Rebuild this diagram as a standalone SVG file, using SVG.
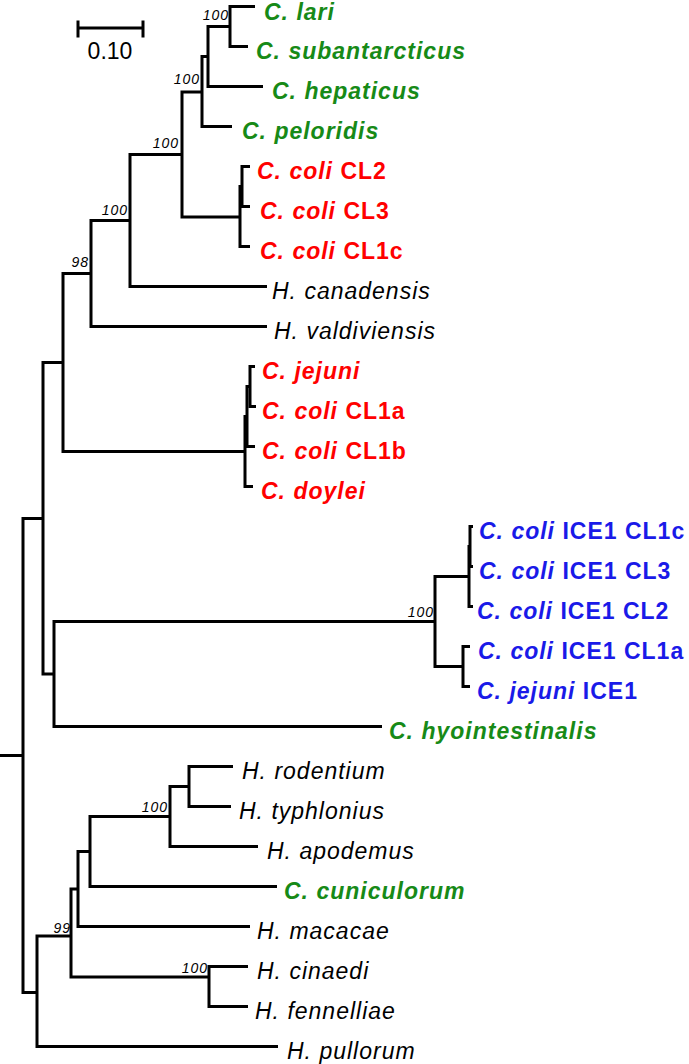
<svg xmlns="http://www.w3.org/2000/svg" width="689" height="1064" viewBox="0 0 689 1064">
<style>
.br{fill:none;stroke:#000;stroke-width:3;stroke-linejoin:miter;stroke-linecap:butt}
.lab{font-family:"Liberation Sans",Arial,sans-serif;font-size:23px;letter-spacing:1px}
.bi{font-weight:bold;font-style:italic}
.b{font-weight:bold;font-style:normal}
.it{font-style:italic;fill:#000}
.gr{fill:#178a17}
.rd{fill:#ff0000}
.bl{fill:#1a1ae8}
.bs{font-family:"Liberation Sans",Arial,sans-serif;font-size:14px;letter-spacing:1px;font-style:italic;fill:#000;text-anchor:end}
.sc{font-family:"Liberation Sans",Arial,sans-serif;font-size:23px;fill:#000;text-anchor:middle}
</style>
<rect width="689" height="1064" fill="#fff"/>
<g id="scale-bar">
<path class="br" d="M78,28 H143 M78,20.5 V37.5 M143,20.5 V37.5"/>
<text class="sc" x="110" y="59">0.10</text>
</g>
<g id="connectors">
<path class="br" d="M0,755.5 H23"/>
<path class="br" d="M43,518.5 H23 V992.5 H37"/>
<path class="br" d="M63,362.5 H43 V674 H54"/>
<path class="br" d="M91,273.5 H63 V451.5 H245"/>
<path class="br" d="M130,220.5 H91 V326.5 H267"/>
<path class="br" d="M182,154.5 H130 V286.5 H267"/>
<path class="br" d="M202,92 H182 V217 H240"/>
<path class="br" d="M208,56.5 H202 V126.5 H232"/>
<path class="br" d="M230,26.5 H208 V86.5 H263"/>
<path class="br" d="M255,6.5 H230 V46.5 H248"/>
<path class="br" d="M242,186.5 H240 V246.5 H250"/>
<path class="br" d="M250,166.5 H242 V206.5 H250"/>
<path class="br" d="M247,416.5 H245 V486.5 H253"/>
<path class="br" d="M250,386.5 H247 V446.5 H255"/>
<path class="br" d="M255,366.5 H250 V406.5 H256"/>
<path class="br" d="M435,621.5 H54 V726.5 H382"/>
<path class="br" d="M469,576.5 H435 V666.5 H463"/>
<path class="br" d="M470,546.5 H469 V606.5 H473"/>
<path class="br" d="M473,526.5 H470 V566.5 H473"/>
<path class="br" d="M470,646.5 H463 V686.5 H470"/>
<path class="br" d="M71,936 H37 V1046.5 H278"/>
<path class="br" d="M78,889 H71 V977 H209"/>
<path class="br" d="M248,966.5 H209 V1006.5 H248"/>
<path class="br" d="M90,851.5 H78 V926.5 H250"/>
<path class="br" d="M170,816.5 H90 V886.5 H277"/>
<path class="br" d="M189,786.5 H170 V846.5 H258"/>
<path class="br" d="M233,766.5 H189 V806.5 H231"/>
</g>
<g id="support-values">
<text class="bs" x="229" y="20">100</text>
<text class="bs" x="200" y="84">100</text>
<text class="bs" x="179" y="148">100</text>
<text class="bs" x="128" y="215">100</text>
<text class="bs" x="89" y="267">98</text>
<text class="bs" x="434" y="617">100</text>
<text class="bs" x="168" y="812">100</text>
<text class="bs" x="71" y="933">99</text>
<text class="bs" x="208" y="973">100</text>
</g>
<g id="leaf-c-lari"><text class="lab bi gr" x="264" y="20">C. lari</text></g>
<g id="leaf-c-subantarcticus"><text class="lab bi gr" x="256" y="58.5">C. subantarcticus</text></g>
<g id="leaf-c-hepaticus"><text class="lab bi gr" x="272" y="98.5">C. hepaticus</text></g>
<g id="leaf-c-peloridis"><text class="lab bi gr" x="242" y="138.5">C. peloridis</text></g>
<g id="leaf-c-coli-cl2"><text class="lab rd" x="257" y="178.5"><tspan class="bi">C. coli</tspan><tspan class="b"> CL2</tspan></text></g>
<g id="leaf-c-coli-cl3"><text class="lab rd" x="260" y="218.5"><tspan class="bi">C. coli</tspan><tspan class="b"> CL3</tspan></text></g>
<g id="leaf-c-coli-cl1c"><text class="lab rd" x="260" y="258.5"><tspan class="bi">C. coli</tspan><tspan class="b"> CL1c</tspan></text></g>
<g id="leaf-h-canadensis"><text class="lab it" x="272" y="298.5">H. canadensis</text></g>
<g id="leaf-h-valdiviensis"><text class="lab it" x="274" y="338.5">H. valdiviensis</text></g>
<g id="leaf-c-jejuni"><text class="lab bi rd" x="262" y="378.5">C. jejuni</text></g>
<g id="leaf-c-coli-cl1a"><text class="lab rd" x="262" y="418.5"><tspan class="bi">C. coli</tspan><tspan class="b"> CL1a</tspan></text></g>
<g id="leaf-c-coli-cl1b"><text class="lab rd" x="262" y="458.5"><tspan class="bi">C. coli</tspan><tspan class="b"> CL1b</tspan></text></g>
<g id="leaf-c-doylei"><text class="lab bi rd" x="261" y="498.5">C. doylei</text></g>
<g id="leaf-ice1-cl1c"><text class="lab bl" x="479" y="538.5"><tspan class="bi">C. coli</tspan><tspan class="b"> ICE1 CL1c</tspan></text></g>
<g id="leaf-ice1-cl3"><text class="lab bl" x="479" y="578.5"><tspan class="bi">C. coli</tspan><tspan class="b"> ICE1 CL3</tspan></text></g>
<g id="leaf-ice1-cl2"><text class="lab bl" x="477" y="618.5"><tspan class="bi">C. coli</tspan><tspan class="b"> ICE1 CL2</tspan></text></g>
<g id="leaf-ice1-cl1a"><text class="lab bl" x="478" y="658.5"><tspan class="bi">C. coli</tspan><tspan class="b"> ICE1 CL1a</tspan></text></g>
<g id="leaf-jejuni-ice1"><text class="lab bl" x="477" y="698.5"><tspan class="bi">C. jejuni</tspan><tspan class="b"> ICE1</tspan></text></g>
<g id="leaf-c-hyointestinalis"><text class="lab bi gr" x="389" y="738.5">C. hyointestinalis</text></g>
<g id="leaf-h-rodentium"><text class="lab it" x="242" y="778.5">H. rodentium</text></g>
<g id="leaf-h-typhlonius"><text class="lab it" x="239" y="818.5">H. typhlonius</text></g>
<g id="leaf-h-apodemus"><text class="lab it" x="267" y="858.5">H. apodemus</text></g>
<g id="leaf-c-cuniculorum"><text class="lab bi gr" x="284" y="898.5">C. cuniculorum</text></g>
<g id="leaf-h-macacae"><text class="lab it" x="257" y="938.5">H. macacae</text></g>
<g id="leaf-h-cinaedi"><text class="lab it" x="257" y="978.5">H. cinaedi</text></g>
<g id="leaf-h-fennelliae"><text class="lab it" x="255" y="1018.5">H. fennelliae</text></g>
<g id="leaf-h-pullorum"><text class="lab it" x="287" y="1058.5">H. pullorum</text></g>
</svg>
